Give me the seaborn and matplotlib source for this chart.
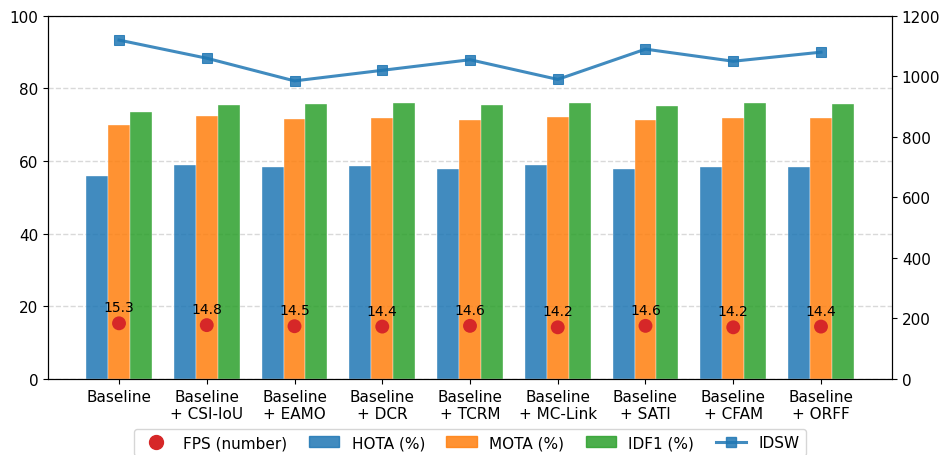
import numpy as np
import pandas as pd
import matplotlib
matplotlib.use("Agg")
import matplotlib.pyplot as plt
import seaborn as sns
from matplotlib.lines import Line2D

# data
methods = ["Baseline", "Baseline\n+ CSI-IoU", "Baseline\n+ EAMO", "Baseline\n+ DCR",
           "Baseline\n+ TCRM", "Baseline\n+ MC-Link", "Baseline\n+ SATI",
           "Baseline\n+ CFAM", "Baseline\n+ ORFF"]
hota = [56.0, 59.0, 58.3, 58.6, 57.9, 58.8, 57.8, 58.3, 58.3]
mota = [69.9, 72.4, 71.6, 72.0, 71.3, 72.2, 71.2, 71.8, 71.8]
idf1 = [73.6, 75.5, 75.8, 75.9, 75.5, 76.0, 75.3, 75.9, 75.7]
fps = [15.3, 14.8, 14.5, 14.4, 14.6, 14.2, 14.6, 14.2, 14.4]
idsw = [1120, 1060, 985, 1020, 1055, 990, 1090, 1050, 1080]

bar_colors = ["#1f77b4", "#ff7f0e", "#2ca02c"]

df = pd.DataFrame({"method": methods, "HOTA (%)": hota, "MOTA (%)": mota, "IDF1 (%)": idf1})
df_long = df.melt(id_vars="method", var_name="metric", value_name="value")

fig, ax = plt.subplots(figsize=(9.4, 4.56), dpi=100)
fig.subplots_adjust(left=0.051, right=0.949, top=0.963, bottom=0.167)

ax.set_axisbelow(True)
ax.yaxis.grid(True, linestyle="--", color="#d9d9d9", linewidth=1)

sns.barplot(data=df_long, x="method", y="value", hue="metric", palette=bar_colors,
            saturation=1, width=0.75, alpha=0.85, edgecolor="white", linewidth=0.3,
            ax=ax, legend=False)

# FPS dots with labels
x = np.arange(len(methods))
sns.scatterplot(x=x, y=fps, color="#d62728", s=100, edgecolor="none", ax=ax, zorder=5)
for xi, v in zip(x, fps):
    ax.text(xi, v + 2.5, f"{v}", ha="center", va="bottom", fontsize=10, zorder=6)

ax.set_ylim(0, 100)
ax.set_xlim(-0.81, len(methods) - 0.19)
ax.set_xlabel("")
ax.set_ylabel("")
ax.tick_params(axis="both", labelsize=11)

# IDSW on right axis
ax2 = ax.twinx()
sns.lineplot(x=x, y=idsw, color="#1f77b4", marker="s", markersize=7, markeredgecolor="#1f77b4",
             linewidth=2.2, alpha=0.85, ax=ax2)
ax2.set_ylim(0, 1200)
ax2.tick_params(axis="y", labelsize=11)

handles = [
    Line2D([], [], marker="o", linestyle="none", color="#d62728", markersize=10),
    plt.Rectangle((0, 0), 1, 1, color=bar_colors[0], alpha=0.85),
    plt.Rectangle((0, 0), 1, 1, color=bar_colors[1], alpha=0.85),
    plt.Rectangle((0, 0), 1, 1, color=bar_colors[2], alpha=0.85),
    Line2D([], [], marker="s", color="#1f77b4", linewidth=2.2, markersize=7, alpha=0.85),
]
labels = ["FPS (number)", "HOTA (%)", "MOTA (%)", "IDF1 (%)", "IDSW"]
ax.legend(handles, labels, loc="upper center", bbox_to_anchor=(0.5, -0.138), ncol=5,
          fontsize=11, frameon=True, columnspacing=1.4, borderaxespad=0)

plt.savefig("out.png", dpi=100)
